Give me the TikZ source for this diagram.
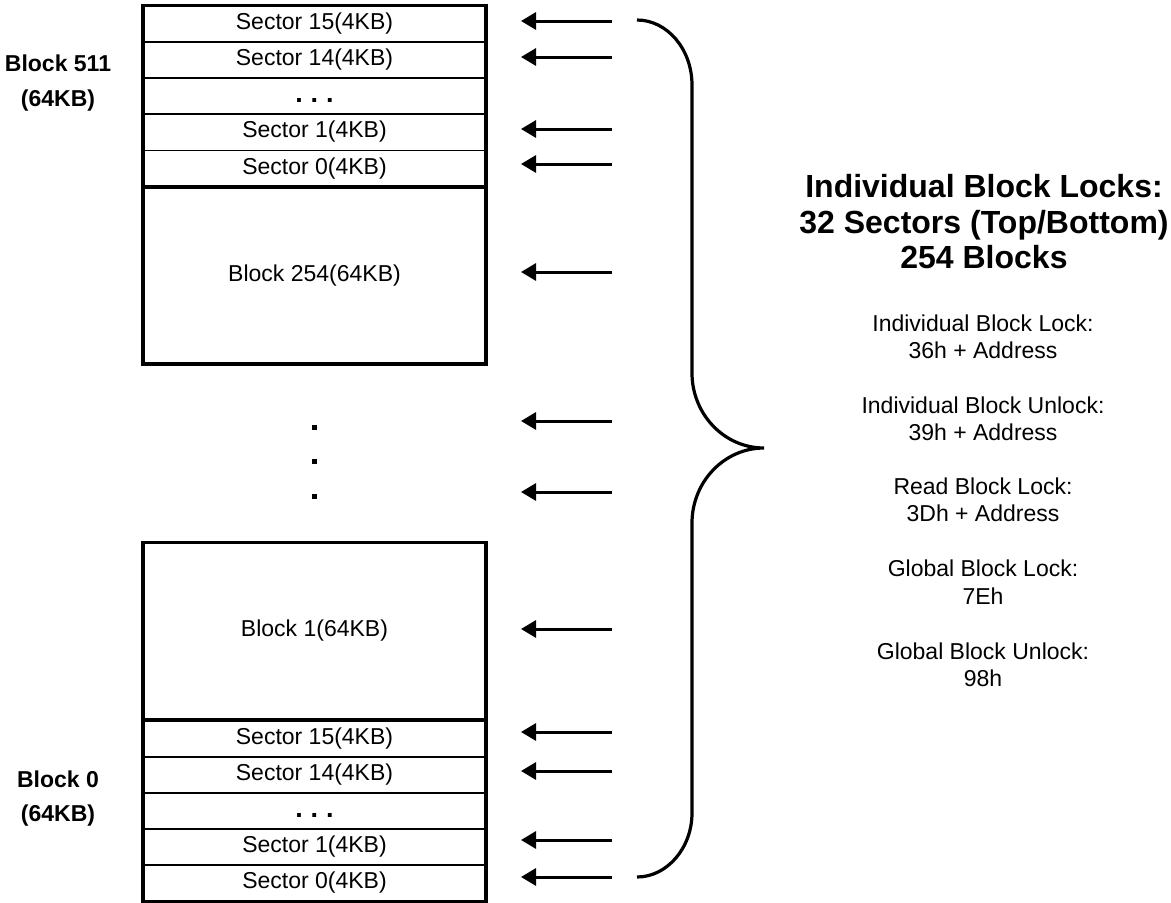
\documentclass[tikz,border=0pt]{standalone}
\usepackage{fontspec}
\setmainfont{Liberation Sans}
\usetikzlibrary{arrows.meta}

\tikzset{
  cell/.style={draw,line width=1.5pt,inner sep=0pt,outer sep=0pt,
    minimum width=343pt,minimum height=36.5pt,font=\fontsize{23}{27}\selectfont},
  bigcell/.style={cell,line width=3.2pt,minimum height=177pt},
  rim/.style={line width=3.2pt},
  lockarrow/.style={line width=3pt,-{Triangle[length=15pt,width=17pt]}},
  sidelabel/.style={inner sep=0pt,font=\fontsize{23}{27}\selectfont\bfseries},
  cmd/.style={align=center,inner sep=0pt,font=\fontsize{23}{27.5}\selectfont}
}
\newcommand{\secdots}{\smash{\raisebox{-6pt}{\fontsize{27}{27}\selectfont\bfseries .\hspace{8pt}.\hspace{8pt}.}}}

\begin{document}
\begin{tikzpicture}[x=1pt,y=-1pt]
\useasboundingbox (0,0) rectangle (1171,903);

% top block 511, split into sectors
\node[cell] (s15a) at (314.5,23.5) {Sector 15(4KB)};
\node[cell] (s14a) at (314.5,60) {Sector 14(4KB)};
\node[cell] (sxa) at (314.5,96) {\secdots};
\node[cell] (s1a) at (314.5,132) {Sector 1(4KB)};
\node[cell] (s0a) at (314.5,168.5) {Sector 0(4KB)};
\draw[rim] (s15a.north west) rectangle (s0a.south east);
\node[bigcell] (b254) at (314.5,275.5) {Block 254(64KB)};

% gap
\foreach \y in {427,461,496}
  \fill (311.5,\y-2.5) rectangle +(5,5);

% bottom block 0, split into sectors
\node[bigcell] (b1) at (314.5,631) {Block 1(64KB)};
\node[cell] (s15b) at (314.5,738.5) {Sector 15(4KB)};
\node[cell] (s14b) at (314.5,775) {Sector 14(4KB)};
\node[cell] (sxb) at (314.5,811) {\secdots};
\node[cell] (s1b) at (314.5,847) {Sector 1(4KB)};
\node[cell] (s0b) at (314.5,883) {Sector 0(4KB)};
\draw[rim] (s15b.north west) rectangle (s0b.south east);

\node[sidelabel] (top) at (58,63.5) {Block 511};
\node[sidelabel] (topsz) at (58,101) {(64KB)};
\node[sidelabel] (bot) at (58,779) {Block 0};
\node[sidelabel] (botsz) at (58,816) {(64KB)};

% lock arrows
\foreach \y [count=\i] in {21,57,129,164,272,421,492,629,732,771,840,877} {
  \coordinate (in\i) at (612,\y);
  \coordinate (out\i) at (521,\y);
  \draw[lockarrow] (in\i) -- (out\i);
}

% brace
\coordinate (tip) at (764,448);
\draw[rim] (637,20) .. controls (667,20) and (692,49) .. (692,85)
  -- (692,373) .. controls (692,414) and (724,448) .. (tip)
  .. controls (724,448) and (692,482) .. (692,523)
  -- (692,813) .. controls (692,848) and (667,877) .. (637,877);

\node[align=center,inner sep=0pt,font=\fontsize{32}{35.5}\selectfont\bfseries] (title) at (984,222)
  {Individual Block Locks:\\32 Sectors (Top/Bottom)\\254 Blocks};

\node[cmd] (lk) at (983,337) {Individual Block Lock:\\36h + Address};
\node[cmd] (ulk) at (983,419) {Individual Block Unlock:\\39h + Address};
\node[cmd] (rd) at (983,500) {Read Block Lock:\\3Dh + Address};
\node[cmd] (glk) at (983,582) {Global Block Lock:\\7Eh};
\node[cmd] (gulk) at (983,665) {Global Block Unlock:\\98h};

\end{tikzpicture}
\end{document}
